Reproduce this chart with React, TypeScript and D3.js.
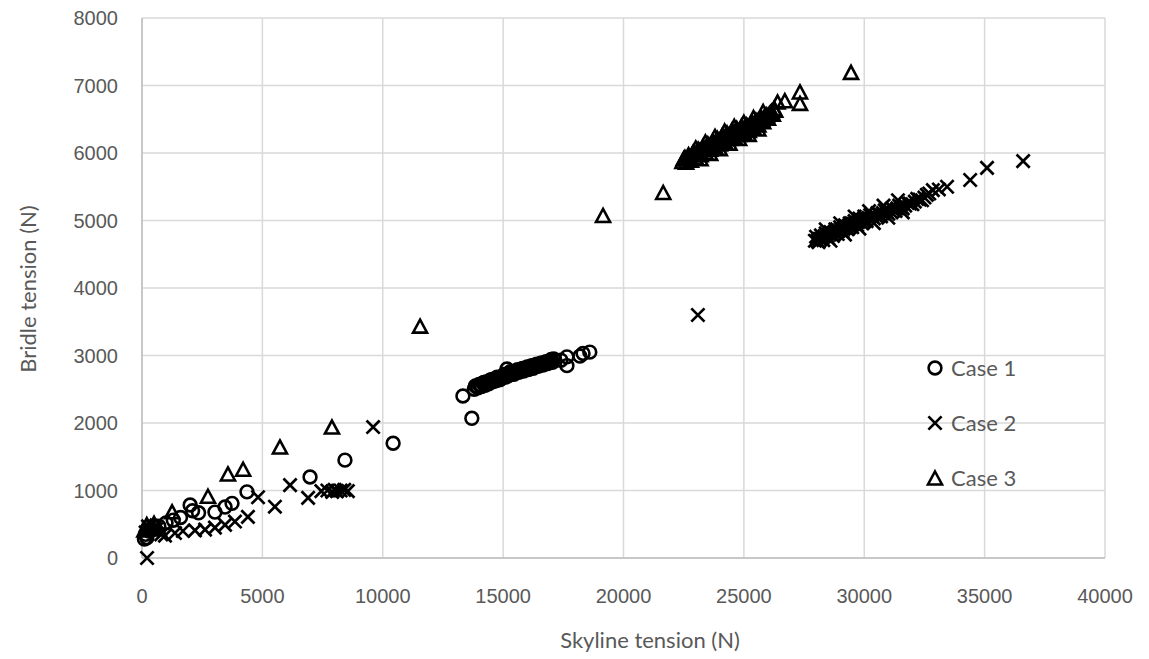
import React from "react";
import * as d3 from "d3";

const xTicks = [0, 5000, 10000, 15000, 20000, 25000, 30000, 35000, 40000];
const yTicks = [0, 1000, 2000, 3000, 4000, 5000, 6000, 7000, 8000];
const seriesNames = ["Case 1", "Case 2", "Case 3"];

// Case 1 (circles): [skyline tension, bridle tension]
const case1: [number, number][] = [
  [100, 280], [200, 300], [150, 350], [300, 400], [250, 450], [400, 420], [500, 480], [700, 470],
  [1000, 520], [1300, 560], [1600, 600], [2000, 785], [2100, 700], [2350, 670], [3030, 680],
  [3450, 755], [3740, 810], [4360, 980], [6980, 1200], [8430, 1450], [10430, 1700],
  [13330, 2400], [13700, 2070],
  [13800, 2500], [13850, 2550], [13950, 2520], [14000, 2570], [14100, 2540], [14150, 2590],
  [14250, 2560], [14300, 2610], [14400, 2580], [14450, 2630], [14550, 2610], [14600, 2650],
  [14700, 2630], [14800, 2670], [14900, 2650], [15000, 2700], [15100, 2680], [15160, 2800],
  [15250, 2710], [15350, 2740], [15450, 2720], [15550, 2770], [15650, 2750], [15750, 2790],
  [15850, 2770], [15950, 2810], [16050, 2790], [16150, 2840], [16250, 2810], [16350, 2860],
  [16450, 2840], [16550, 2880], [16650, 2860], [16750, 2900], [16850, 2880], [16950, 2920],
  [17050, 2900], [17100, 2950],
  [13900, 2540], [14050, 2560], [14200, 2600], [14350, 2580], [14500, 2640], [14650, 2620],
  [14750, 2680], [14850, 2640], [14950, 2690], [15050, 2720], [15200, 2700], [15300, 2760],
  [15400, 2740], [15500, 2750], [15600, 2790], [15700, 2770], [15800, 2810], [15900, 2790],
  [16000, 2830], [16100, 2810], [16200, 2850], [16300, 2840], [16400, 2870], [16500, 2850],
  [16600, 2890], [16700, 2870], [16800, 2910], [16900, 2900], [17000, 2940],
  [17400, 2930], [17650, 2980], [17650, 2850], [18190, 2990], [18320, 3030], [18600, 3050],
];

// Case 2 (crosses)
const case2: [number, number][] = [
  [210, 0], [150, 380], [300, 420], [250, 470], [450, 400], [600, 430], [800, 350], [955, 330],
  [1370, 370], [1700, 400], [2200, 410], [2620, 420], [3030, 450], [3450, 490], [3860, 540],
  [4400, 610], [4820, 900], [5520, 760], [6150, 1080], [6900, 890],
  [7450, 990], [7700, 1000], [7900, 980], [8000, 1010], [8100, 990], [8250, 1000], [8400, 1010],
  [8550, 990], [9600, 1940], [23090, 3600],
  [27950, 4700], [28000, 4760], [28100, 4680], [28200, 4780], [28300, 4710], [28400, 4810],
  [28500, 4740], [28600, 4830], [28700, 4770], [28800, 4870], [28900, 4800], [29000, 4900],
  [29100, 4840], [29200, 4930], [29300, 4870], [29400, 4960], [29500, 4900], [29600, 4990],
  [29700, 4930], [29800, 5030], [29900, 4960], [30000, 5060], [30100, 4990], [30250, 5080],
  [30400, 5030], [30550, 5110], [30700, 5060], [30850, 5150], [31000, 5100], [31150, 5180],
  [31300, 5140], [31450, 5220], [31600, 5180], [31800, 5260], [32000, 5240], [32200, 5320],
  [32400, 5300], [32600, 5380],
  [28050, 4700], [28150, 4730], [28250, 4740], [28350, 4770], [28450, 4770], [28550, 4790],
  [28650, 4800], [28750, 4820], [28850, 4830], [28950, 4850], [29050, 4870], [29150, 4880],
  [29250, 4900], [29350, 4920], [29450, 4930], [29550, 4950], [29650, 4960], [29750, 4980],
  [29850, 4990], [29950, 5010], [30050, 5020], [30175, 5040], [30325, 5060], [30475, 5070],
  [30625, 5090], [30775, 5110], [30925, 5130], [31075, 5140], [31225, 5160], [31375, 5180],
  [31525, 5200], [31700, 5220], [31900, 5250], [32100, 5280], [32300, 5310], [32500, 5340],
  [32700, 5400],
  [28400, 4870], [29000, 4960], [29600, 5060], [30200, 5140], [30800, 5220], [31400, 5300],
  [28600, 4700], [29200, 4790], [29800, 4880], [30400, 4960], [31000, 5040], [31600, 5120],
  [32850, 5450], [33100, 5460], [33440, 5500], [34400, 5600], [35100, 5780], [36600, 5880],
];

// Case 3 (triangles)
const case3: [number, number][] = [
  [100, 400], [200, 480], [350, 450], [500, 500], [700, 420], [1250, 670], [2740, 900],
  [3570, 1230], [4200, 1300], [5730, 1630], [7890, 1925], [11550, 3420], [19150, 5060],
  [21650, 5400],
  [22450, 5860], [22550, 5920], [22600, 5850], [22700, 5960], [22800, 5880], [22900, 6000],
  [23000, 5920], [23100, 6040], [23200, 5960], [23300, 6080], [23400, 6000], [23500, 6120],
  [23600, 6040], [23700, 6160], [23800, 6080], [23900, 6200], [24000, 6120], [24100, 6240],
  [24200, 6160], [24300, 6280], [24400, 6200], [24500, 6320], [24600, 6230], [24700, 6350],
  [24800, 6260], [24900, 6380], [25000, 6290], [25100, 6400], [25200, 6320], [25300, 6430],
  [25400, 6360], [25500, 6470], [25600, 6400], [25700, 6500], [25800, 6450], [25900, 6540],
  [26000, 6500], [26100, 6580], [26200, 6560],
  [22500, 5900], [22650, 5900], [22750, 5920], [22850, 5960], [22950, 5980], [23050, 5990],
  [23150, 6020], [23250, 6040], [23350, 6050], [23450, 6070], [23550, 6100], [23650, 6110],
  [23750, 6130], [23850, 6160], [23950, 6170], [24050, 6190], [24150, 6210], [24250, 6230],
  [24350, 6250], [24450, 6270], [24550, 6290], [24650, 6300], [24750, 6320], [24850, 6330],
  [24950, 6350], [25050, 6360], [25150, 6380], [25250, 6390], [25350, 6420], [25450, 6430],
  [25550, 6460], [25650, 6470], [25750, 6490], [25850, 6520], [25950, 6550], [26050, 6560],
  [26150, 6600], [26250, 6640],
  [23000, 6060], [23400, 6150], [23800, 6230], [24200, 6310], [24600, 6380], [25000, 6440],
  [25400, 6510], [25800, 6600],
  [23200, 5900], [23600, 5980], [24000, 6050], [24400, 6130], [24800, 6200], [25200, 6260],
  [25600, 6340],
  [26300, 6620], [26400, 6740], [26700, 6760], [27330, 6890], [27330, 6720], [29450, 7180],
];

const W = 1149;
const H = 659;
const M = { left: 142, right: 1105, top: 18, bottom: 558 };
const GRAY = "#595959";
const FONT = "Lato, 'Liberation Sans', sans-serif";
const TICKFONT = "'Liberation Sans Narrow', 'Liberation Sans', sans-serif";

function Marker({ kind, x, y }: { kind: number; x: number; y: number }) {
  if (kind === 0) {
    return <circle cx={x} cy={y} r={6.4} fill="none" stroke="#000" strokeWidth={2.6} />;
  }
  if (kind === 1) {
    const s = 6.6;
    return (
      <path
        d={`M${x - s},${y - s}L${x + s},${y + s}M${x - s},${y + s}L${x + s},${y - s}`}
        stroke="#000"
        strokeWidth={2.7}
        fill="none"
      />
    );
  }
  const hw = 7;
  return (
    <path
      d={`M${x},${y - 7.5}L${x + hw},${y + 5.5}L${x - hw},${y + 5.5}Z`}
      fill="none"
      stroke="#000"
      strokeWidth={2.6}
      strokeLinejoin="miter"
    />
  );
}

export default function App() {
  const x = d3.scaleLinear().domain([0, 40000]).range([M.left, M.right]);
  const y = d3.scaleLinear().domain([0, 8000]).range([M.bottom, M.top]);
  const all = [case1, case2, case3];
  const legendY = [368, 423, 478];

  return (
    <svg width={W} height={H} style={{ position: "absolute", left: 0, top: 0, background: "#fff" }}>
      <rect x={0} y={0} width={W} height={H} fill="#fff" />
      {xTicks.map((t) => (
        <line key={"gx" + t} x1={x(t)} x2={x(t)} y1={y(8000)} y2={y(0)} stroke="#d9d9d9" strokeWidth={1.5} />
      ))}
      {yTicks.map((t) => (
        <line key={"gy" + t} x1={x(0)} x2={x(40000)} y1={y(t)} y2={y(t)} stroke="#d9d9d9" strokeWidth={1.5} />
      ))}
      <line x1={x(0)} x2={x(0)} y1={y(8000)} y2={y(0)} stroke="#bfbfbf" strokeWidth={1.5} />
      <line x1={x(0)} x2={x(40000)} y1={y(0)} y2={y(0)} stroke="#bfbfbf" strokeWidth={1.5} />
      {yTicks.map((t) => (
        <text key={"ty" + t} x={118} y={y(t)} dy="0.35em" textAnchor="end" fontFamily={TICKFONT} fontSize={20} fill={GRAY}>
          {t}
        </text>
      ))}
      {xTicks.map((t) => (
        <text key={"tx" + t} x={x(t)} y={596} dy="0.35em" textAnchor="middle" fontFamily={TICKFONT} fontSize={20} fill={GRAY}>
          {t}
        </text>
      ))}
      <text x={650} y={640} dy="0.35em" textAnchor="middle" fontFamily={FONT} fontSize={22} fill={GRAY}>
        Skyline tension (N)
      </text>
      <text
        transform={`translate(28,289) rotate(-90)`}
        dy="0.35em"
        textAnchor="middle"
        fontFamily={FONT}
        fontSize={22}
        fill={GRAY}
      >
        Bridle tension (N)
      </text>
      {all.map((s, k) => (
        <g key={"s" + k}>
          {s.map((d, i) => (
            <Marker key={i} kind={k} x={x(d[0])} y={y(d[1])} />
          ))}
        </g>
      ))}
      {seriesNames.map((n, k) => (
        <g key={"l" + k}>
          <Marker kind={k} x={935} y={legendY[k] + (k === 2 ? 1 : 0)} />
          <text x={951} y={legendY[k]} dy="0.35em" fontFamily={FONT} fontSize={22} fill={GRAY}>
            {n}
          </text>
        </g>
      ))}
    </svg>
  );
}
